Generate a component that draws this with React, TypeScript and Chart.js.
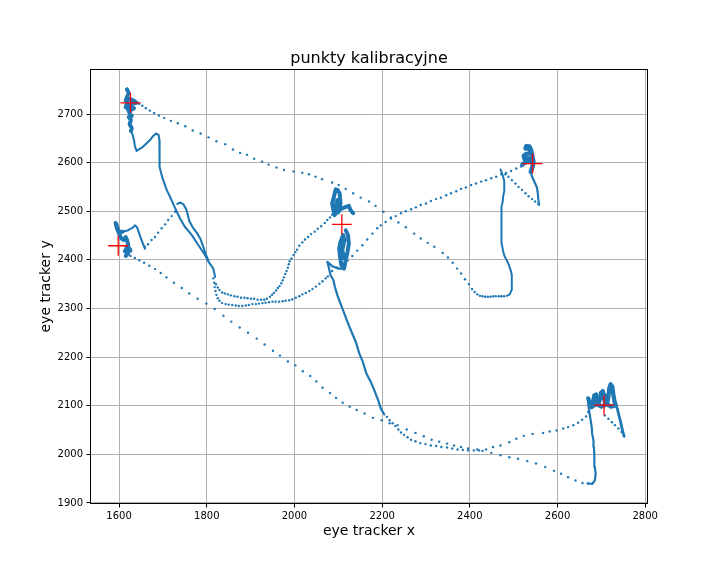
import { useEffect, useRef } from "react";
import { Chart, registerables } from "chart.js";

Chart.register(...registerables);

type P = [number, number];

const FONT = "'DejaVu Sans', sans-serif";
const BLUE = "#1f77b4";

const xTicks = [1600, 1800, 2000, 2200, 2400, 2600, 2800];
const yTicks = [1900, 2000, 2100, 2200, 2300, 2400, 2500, 2600, 2700];
const xRange = [1534.8, 2805.2];
const yRange = [1898.8, 2792];

// calibration targets (red +)
const calibX = [1626, 1598, 2108, 2543, 2706];
const calibY = [2723, 2429, 2473, 2598, 2101];

// dense fixation clusters (overlapping samples)
const clusterTopLeft: P[] = [
  [1618, 2751], [1622, 2743], [1618, 2735], [1615, 2727], [1624, 2731], [1634, 2727], [1640, 2723],
  [1629, 2721], [1618, 2721], [1615, 2714], [1624, 2716], [1634, 2712], [1627, 2708], [1620, 2710],
  [1624, 2702], [1629, 2696], [1622, 2694], [1627, 2688], [1624, 2679], [1629, 2671], [1627, 2665],
];
const clusterLeft: P[] = [
  [1615, 2408], [1621, 2413], [1613, 2418], [1618, 2424], [1626, 2419], [1624, 2423], [1617, 2427],
  [1621, 2430], [1618, 2441], [1615, 2447], [1611, 2441], [1605, 2444], [1600, 2454], [1595, 2465],
  [1592, 2476], [1594, 2473], [1597, 2463], [1602, 2457], [1608, 2458],
];
const clusterMidUpper: P[] = [
  [2092, 2492], [2089, 2502], [2086, 2516], [2090, 2530], [2094, 2545], [2098, 2544], [2103, 2537],
  [2105, 2516], [2101, 2499], [2096, 2496], [2094, 2509], [2098, 2523], [2099, 2502], [2105, 2504],
  [2117, 2509], [2124, 2511], [2128, 2502], [2134, 2496],
];
const clusterMidLower: P[] = [
  [2117, 2461], [2122, 2451], [2124, 2434], [2121, 2417], [2117, 2399], [2113, 2382], [2107, 2389],
  [2104, 2406], [2102, 2423], [2105, 2437], [2111, 2451], [2114, 2441], [2109, 2420], [2113, 2403],
];
const clusterRight: P[] = [
  [2520, 2596], [2525, 2600], [2534, 2602], [2540, 2605], [2534, 2609], [2525, 2607], [2523, 2614],
  [2529, 2618], [2536, 2619], [2540, 2625], [2534, 2629], [2527, 2629], [2529, 2634], [2536, 2633],
  [2539, 2627], [2542, 2616], [2545, 2602], [2543, 2592], [2539, 2581],
];
const clusterBottomRight: P[] = [
  [2670, 2115], [2674, 2104], [2678, 2097], [2682, 2111], [2684, 2121], [2688, 2123], [2691, 2111],
  [2693, 2101], [2697, 2115], [2699, 2126], [2703, 2130], [2706, 2121], [2708, 2108], [2713, 2104],
  [2716, 2118], [2718, 2135], [2721, 2144], [2725, 2139], [2727, 2125], [2730, 2108], [2733, 2101],
  [2722, 2098], [2712, 2103], [2700, 2098], [2690, 2104], [2680, 2099],
];

// slow drifts (closely spaced samples)
const driftTopLeft: P[] = [
  [1627, 2665], [1631, 2657], [1634, 2646], [1636, 2634], [1640, 2624], [1655, 2633], [1670, 2646],
  [1678, 2655], [1684, 2660], [1690, 2657], [1692, 2646], [1692, 2630], [1692, 2612], [1693, 2591],
  [1699, 2568], [1709, 2543], [1716, 2530], [1728, 2506], [1739, 2485], [1750, 2468], [1766, 2451],
  [1781, 2430], [1796, 2410], [1804, 2396], [1815, 2382], [1819, 2365],
];
const driftLeft: P[] = [
  [1608, 2458], [1621, 2461], [1632, 2467], [1636, 2471], [1641, 2467], [1646, 2454], [1651, 2441],
  [1657, 2427], [1659, 2423],
];
const driftBump: P[] = [
  [1733, 2515], [1739, 2518], [1747, 2514], [1753, 2504], [1757, 2492], [1760, 2480], [1768, 2467],
  [1777, 2456], [1785, 2444], [1791, 2430], [1797, 2413], [1804, 2398],
];
const driftMid: P[] = [
  [2113, 2382], [2101, 2382], [2086, 2387], [2075, 2396], [2079, 2382], [2082, 2369], [2089, 2358],
  [2092, 2345], [2098, 2327], [2105, 2310], [2111, 2296], [2121, 2272], [2132, 2248], [2140, 2231],
  [2148, 2207], [2156, 2190], [2164, 2166], [2174, 2149], [2182, 2132], [2191, 2111], [2197, 2094],
  [2205, 2082],
];
const driftRightU: P[] = [
  [2484, 2326], [2491, 2329], [2495, 2338], [2496, 2348], [2496, 2358], [2495, 2369], [2493, 2379],
  [2490, 2387], [2487, 2394], [2483, 2401], [2479, 2408], [2476, 2417], [2474, 2427], [2472, 2437],
  [2472, 2447], [2472, 2468], [2472, 2489], [2472, 2499], [2473, 2509], [2475, 2520], [2476, 2530],
  [2478, 2540], [2479, 2550], [2478, 2561], [2476, 2571], [2473, 2579], [2470, 2586],
];
const driftRightTail: P[] = [
  [2539, 2581], [2542, 2571], [2548, 2559], [2553, 2549], [2555, 2537], [2556, 2526], [2558, 2513],
];
const driftBottomRight: P[] = [
  [2669, 1940], [2679, 1939], [2685, 1946], [2687, 1960], [2685, 1974], [2684, 1994], [2683, 2015],
  [2682, 2029], [2679, 2042], [2678, 2056], [2675, 2073], [2672, 2090], [2670, 2104], [2670, 2115],
];
const driftBottomRightTail: P[] = [
  [2730, 2108], [2737, 2092], [2740, 2080], [2743, 2070], [2746, 2058], [2749, 2046], [2752, 2037],
];

// separate samples (saccades and faster movements)
const saccade1: P[] = [
  [1640, 2723], [1646, 2721], [1653, 2717], [1661, 2712], [1670, 2707], [1680, 2702], [1691, 2697],
  [1703, 2692], [1718, 2686], [1734, 2681], [1751, 2675], [1768, 2666], [1786, 2660], [1804, 2652],
  [1822, 2644], [1842, 2638], [1860, 2627], [1876, 2620], [1892, 2616], [1908, 2608], [1926, 2602],
  [1941, 2596], [1959, 2590], [1976, 2585], [1998, 2582], [2018, 2579], [2033, 2576], [2048, 2571],
  [2063, 2566], [2086, 2559], [2101, 2554], [2117, 2546], [2134, 2537], [2151, 2528], [2170, 2520],
  [2185, 2511], [2203, 2499], [2220, 2487], [2237, 2477], [2254, 2467], [2273, 2454], [2288, 2444],
  [2304, 2435], [2319, 2427], [2338, 2414], [2350, 2405], [2361, 2394], [2371, 2382], [2380, 2372],
  [2389, 2360], [2398, 2350], [2405, 2340], [2411, 2334], [2417, 2329], [2423, 2326], [2429, 2325],
  [2435, 2324], [2441, 2324], [2447, 2324], [2453, 2325], [2459, 2325], [2466, 2325], [2472, 2325],
  [2478, 2325],
];
const saccade2: P[] = [
  [1617, 2413], [1626, 2408], [1636, 2404], [1646, 2399], [1657, 2394], [1669, 2388], [1682, 2381],
  [1695, 2373], [1708, 2364], [1725, 2353], [1743, 2342], [1760, 2331], [1779, 2320], [1799, 2310],
  [1818, 2299], [1838, 2285], [1856, 2273], [1875, 2261], [1894, 2250], [1914, 2238], [1932, 2226],
  [1951, 2213], [1967, 2203], [1985, 2191], [2002, 2183], [2019, 2171], [2036, 2161], [2050, 2150],
  [2064, 2137], [2081, 2126], [2095, 2116], [2110, 2106], [2126, 2098], [2142, 2091], [2160, 2084],
  [2179, 2075], [2199, 2070], [2217, 2064], [2235, 2060], [2256, 2051], [2276, 2044], [2295, 2037],
  [2313, 2030], [2330, 2026], [2348, 2022], [2364, 2018], [2380, 2015], [2396, 2012], [2417, 2010],
];
const saccade3: P[] = [
  [2517, 2592], [2506, 2588], [2494, 2583], [2483, 2579], [2472, 2576], [2460, 2571], [2449, 2568],
  [2437, 2564], [2426, 2561], [2414, 2557], [2403, 2554], [2391, 2549], [2380, 2546], [2369, 2541],
  [2357, 2537], [2346, 2533], [2334, 2528], [2323, 2525], [2311, 2521], [2300, 2516], [2288, 2513],
  [2277, 2508], [2266, 2504], [2254, 2500], [2243, 2496], [2231, 2490], [2220, 2485], [2208, 2478],
  [2197, 2471], [2189, 2465], [2178, 2454], [2166, 2442], [2155, 2430], [2143, 2419], [2132, 2408],
  [2121, 2399], [2109, 2393], [2098, 2384], [2086, 2377],
];
const saccadeLeftUp: P[] = [
  [1666, 2432], [1674, 2441], [1682, 2447], [1689, 2456], [1697, 2465], [1705, 2473], [1712, 2482],
  [1720, 2490], [1728, 2499],
];
const saccadeRightDown: P[] = [
  [2481, 2576], [2488, 2571], [2496, 2564], [2504, 2557], [2511, 2550], [2519, 2544], [2527, 2537],
  [2534, 2531], [2542, 2525], [2549, 2520], [2556, 2515],
];
const saccadeBottom: P[] = [
  [2429, 2007], [2449, 2003], [2470, 1998], [2490, 1994], [2510, 1991], [2531, 1986], [2551, 1981],
  [2572, 1974], [2592, 1966], [2608, 1960], [2624, 1953], [2641, 1946], [2657, 1941], [2669, 1940],
];
const saccadeBottomRight: P[] = [
  [2708, 2080], [2716, 2073], [2724, 2066], [2731, 2060], [2739, 2053], [2746, 2046],
];
const curveUpper: P[] = [
  [1821, 2350], [1825, 2343], [1829, 2338], [1835, 2333], [1841, 2331], [1848, 2329], [1855, 2327],
  [1863, 2325], [1870, 2324], [1878, 2322], [1886, 2322], [1893, 2321], [1901, 2320], [1908, 2320],
  [1916, 2318], [1924, 2318], [1931, 2318], [1937, 2320], [1944, 2324], [1949, 2328], [1953, 2332],
  [1958, 2337], [1962, 2342], [1966, 2346], [1970, 2352], [1973, 2358], [1976, 2364], [1979, 2371],
  [1982, 2377], [1985, 2384], [1987, 2391], [1989, 2397], [1993, 2403], [1998, 2410], [2002, 2416],
  [2006, 2421], [2011, 2429], [2018, 2436], [2024, 2442], [2031, 2447], [2038, 2453], [2046, 2458],
  [2053, 2464], [2061, 2469], [2069, 2476], [2075, 2482], [2081, 2487], [2086, 2493],
];
const curveLower: P[] = [
  [1815, 2362], [1817, 2353], [1818, 2344], [1820, 2336], [1822, 2328], [1825, 2321], [1829, 2316],
  [1835, 2311], [1843, 2309], [1850, 2308], [1858, 2307], [1866, 2306], [1873, 2305], [1881, 2305],
  [1889, 2306], [1896, 2307], [1904, 2309], [1912, 2309], [1919, 2310], [1927, 2311], [1934, 2312],
  [1942, 2313], [1950, 2314], [1957, 2314], [1965, 2314], [1973, 2315], [1980, 2316], [1988, 2317],
  [1995, 2319], [2003, 2322], [2011, 2325], [2018, 2329], [2026, 2332], [2034, 2336], [2041, 2340],
  [2049, 2345], [2057, 2351], [2064, 2356], [2071, 2362], [2076, 2366],
];
const curveBottom: P[] = [
  [2211, 2077], [2217, 2070], [2224, 2064], [2230, 2058], [2237, 2051], [2243, 2045], [2250, 2040],
  [2258, 2035], [2266, 2030], [2276, 2027], [2287, 2023], [2299, 2021], [2311, 2018], [2323, 2017],
  [2335, 2015], [2348, 2014], [2360, 2012], [2372, 2010], [2384, 2009], [2396, 2008], [2409, 2008],
  [2421, 2008], [2437, 2010], [2453, 2015], [2470, 2018], [2490, 2025], [2506, 2032], [2523, 2038],
  [2543, 2042], [2567, 2044], [2582, 2047], [2598, 2049], [2613, 2053], [2624, 2056], [2636, 2060],
  [2647, 2065], [2656, 2071], [2665, 2078], [2670, 2087],
];

const toPts = (a: P[]) => a.map(([x, y]) => ({ x, y }));

const lineSet = (a: P[], w: number) => ({
  data: toPts(a),
  showLine: true,
  borderColor: BLUE,
  backgroundColor: BLUE,
  borderWidth: w,
  borderJoinStyle: "round",
  borderCapStyle: "round",
  pointRadius: 0,
  pointHoverRadius: 0,
  tension: 0,
});

const dotSet = (a: P[]) => ({
  data: toPts(a),
  showLine: false,
  borderColor: BLUE,
  backgroundColor: BLUE,
  pointRadius: 1.2,
  pointBorderWidth: 0,
  pointHoverRadius: 0,
});

const spines = {
  id: "spines",
  afterDraw(chart: any) {
    const { ctx, chartArea: a } = chart;
    ctx.save();
    ctx.strokeStyle = "#000";
    ctx.lineWidth = 1;
    const l = Math.floor(a.left) + 0.5;
    const t = Math.floor(a.top) + 0.5;
    const r = Math.floor(a.right) + 0.5;
    const b = Math.floor(a.bottom) + 0.5;
    ctx.strokeRect(l, t, r - l, b - t);
    ctx.restore();
  },
};

export default function App() {
  const ref = useRef<HTMLCanvasElement | null>(null);

  useEffect(() => {
    if (!ref.current) return;
    const datasets: any[] = [
      {
        data: calibX.map((x, i) => ({ x, y: calibY[i] })),
        showLine: false,
        pointStyle: "cross",
        pointRadius: 10,
        pointHoverRadius: 10,
        borderColor: "#ff0000",
        backgroundColor: "#ff0000",
        borderWidth: 1.3,
      },
      lineSet(clusterTopLeft, 4),
      lineSet(clusterLeft, 4),
      lineSet(clusterMidUpper, 4),
      lineSet(clusterMidLower, 4),
      lineSet(clusterRight, 4.5),
      lineSet(clusterBottomRight, 4.3),
      lineSet(driftTopLeft, 2.1),
      lineSet(driftLeft, 2.1),
      lineSet(driftBump, 2.1),
      lineSet(driftMid, 2.2),
      lineSet(driftRightU, 2),
      lineSet(driftRightTail, 2.2),
      lineSet(driftBottomRight, 2.2),
      lineSet(driftBottomRightTail, 2.8),
      dotSet(saccade1),
      dotSet(saccade2),
      dotSet(saccade3),
      dotSet(saccadeLeftUp),
      dotSet(saccadeRightDown),
      dotSet(saccadeBottom),
      dotSet(saccadeBottomRight),
      dotSet(curveUpper),
      dotSet(curveLower),
      dotSet(curveBottom),
    ];

    const chart = new Chart(ref.current, {
      type: "scatter",
      data: { datasets },
      plugins: [spines],
      options: {
        animation: false,
        responsive: false,
        devicePixelRatio: 1,
        events: [],
        layout: { padding: { left: 0, right: 72.5, top: 0, bottom: 0 } },
        plugins: {
          legend: { display: false },
          tooltip: { enabled: false },
          title: {
            display: true,
            fullSize: false,
            text: "punkty kalibracyjne",
            color: "#000",
            font: { family: FONT, size: 16, weight: "normal", lineHeight: 1.2 },
            padding: { top: 48.9, bottom: 1.2 },
          },
        },
        scales: {
          x: {
            type: "linear",
            min: xRange[0],
            max: xRange[1],
            afterBuildTicks: (axis: any) => {
              axis.ticks = xTicks.map((v) => ({ value: v }));
            },
            afterFit: (axis: any) => {
              axis.height = 72.5;
            },
            grid: { color: "#b0b0b0", lineWidth: 1, tickColor: "#000", tickLength: 4, tickWidth: 1 },
            border: { display: false },
            ticks: {
              color: "#000",
              font: { family: FONT, size: 10 },
              padding: 3,
              maxRotation: 0,
              autoSkip: false,
              callback: (v: any) => String(v),
            },
            title: {
              display: true,
              text: "eye tracker x",
              color: "#000",
              font: { family: FONT, size: 14, lineHeight: 1.2 },
              padding: { top: 0, bottom: 36.6 },
            },
          },
          y: {
            type: "linear",
            min: yRange[0],
            max: yRange[1],
            afterBuildTicks: (axis: any) => {
              axis.ticks = yTicks.map((v) => ({ value: v }));
            },
            afterFit: (axis: any) => {
              axis.width = 90.5;
            },
            grid: { color: "#b0b0b0", lineWidth: 1, tickColor: "#000", tickLength: 4, tickWidth: 1 },
            border: { display: false },
            ticks: {
              color: "#000",
              font: { family: FONT, size: 10 },
              padding: 3.5,
              autoSkip: false,
              callback: (v: any) => String(v),
            },
            title: {
              display: true,
              text: "eye tracker y",
              color: "#000",
              font: { family: FONT, size: 14, lineHeight: 1.2 },
              padding: { top: 38.1, bottom: 0 },
            },
          },
        },
      } as any,
    });

    return () => chart.destroy();
  }, []);

  return (
    <div style={{ position: "absolute", left: 0, top: 0, width: 720, height: 576, background: "#fff" }}>
      <canvas ref={ref} width={720} height={576} style={{ display: "block", width: 720, height: 576 }} />
    </div>
  );
}
